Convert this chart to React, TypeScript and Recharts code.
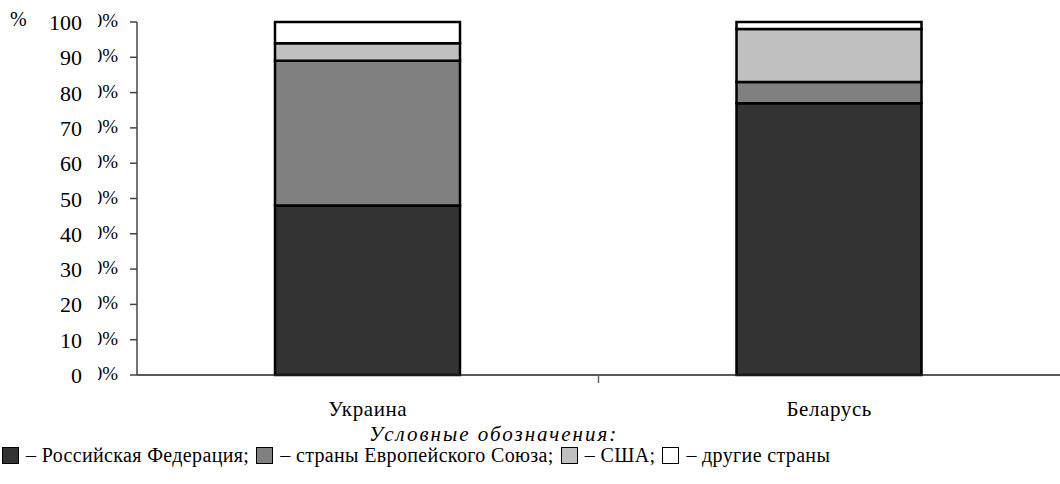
import React from 'react'
import { BarChart, Bar, XAxis, YAxis } from 'recharts'

const countries = ['Украина', 'Беларусь']
const russia = [48, 77]
const eu = [41, 6]
const usa = [5, 15]
const other = [6, 2]
const yTicks = [0, 10, 20, 30, 40, 50, 60, 70, 80, 90, 100]

const seriesNames = ['Российская Федерация', 'страны Европейского Союза', 'США', 'другие страны']
const colors = ['#333333', '#808080', '#c0c0c0', '#ffffff']

const data = countries.map((c, i) => ({
  country: c,
  russia: russia[i],
  eu: eu[i],
  usa: usa[i],
  other: other[i]
}))

const font = '"Liberation Serif", "Times New Roman", serif'

// labels look like "100" laid over a half-hidden "0%"
const YTick = (props: any) => {
  const { x, y, payload } = props
  return (
    <g>
      <text x={x - 10} y={y + 5} textAnchor="end" fontSize={19} fontFamily={font} fill="#000">
        0%
      </text>
      <rect x={x - 42} y={y - 14} width={12} height={24} fill="#fff" />
      <text x={x - 46} y={y + 8} textAnchor="end" fontSize={22} fontFamily={font} fill="#000">
        {payload.value}
      </text>
    </g>
  )
}

const XTick = (props: any) => {
  const { x, y, payload, index } = props
  const half = payload.offset || 231
  return (
    <g>
      <text x={x} y={y + 33} textAnchor="middle" fontSize={21} letterSpacing={0.6} fontFamily={font} fill="#000">
        {payload.value}
      </text>
      {index === 0 && <line x1={x + half} x2={x + half} y1={y - 8} y2={y} stroke="#666" strokeWidth={1.5} />}
    </g>
  )
}

const Swatch = ({ color }: { color: string }) => (
  <span
    style={{
      display: 'inline-block',
      width: 15,
      height: 15,
      background: color,
      border: '1.5px solid #000',
      marginRight: 7,
      verticalAlign: -2
    }}
  />
)

export default function App() {
  return (
    <div style={{ position: 'absolute', left: 0, top: 0, width: 1060, height: 484, background: '#fff', fontFamily: font }}>
      <BarChart width={1060} height={484} data={data} margin={{ top: 22, right: 0, bottom: 79, left: 0 }} barSize={185}>
        <XAxis
          dataKey="country"
          height={30}
          tickLine={false}
          axisLine={{ stroke: '#222', strokeWidth: 1.5 }}
          tick={<XTick />}
          interval={0}
        />
        <YAxis
          width={137}
          domain={[0, 100]}
          ticks={yTicks}
          tickSize={7}
          tickLine={{ stroke: '#444', strokeWidth: 1.5 }}
          axisLine={{ stroke: '#444', strokeWidth: 1.5 }}
          tick={<YTick />}
          interval={0}
        />
        <Bar dataKey="russia" stackId="a" fill={colors[0]} stroke="#000" strokeWidth={2.5} isAnimationActive={false} />
        <Bar dataKey="eu" stackId="a" fill={colors[1]} stroke="#000" strokeWidth={2.5} isAnimationActive={false} />
        <Bar dataKey="usa" stackId="a" fill={colors[2]} stroke="#000" strokeWidth={2.5} isAnimationActive={false} />
        <Bar dataKey="other" stackId="a" fill={colors[3]} stroke="#000" strokeWidth={2.5} isAnimationActive={false} />
      </BarChart>
      <div style={{ position: 'absolute', left: 10, top: 8, fontSize: 20 }}>%</div>
      <div style={{ position: 'absolute', left: 369, top: 424, fontSize: 21, lineHeight: '21px', letterSpacing: 2, fontStyle: 'italic' }}>
        Условные обозначения:
      </div>
      <div style={{ position: 'absolute', left: 2, top: 445, fontSize: 20, lineHeight: '20px', letterSpacing: 0.35, whiteSpace: 'nowrap' }}>
        {seriesNames.map((n, i) => (
          <span key={n} style={{ marginRight: 7 }}>
            <Swatch color={colors[i]} />
            {'– ' + n + (i < seriesNames.length - 1 ? ';' : '')}
          </span>
        ))}
      </div>
    </div>
  )
}
